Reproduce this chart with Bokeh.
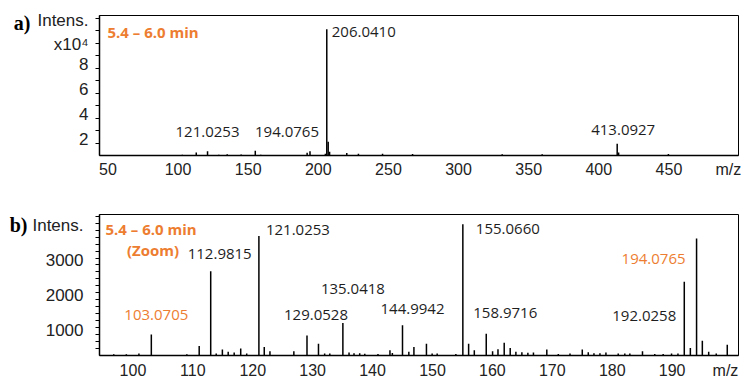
from bokeh.plotting import figure
from bokeh.layouts import column
from bokeh.models import ColumnDataSource, FixedTicker, Label, Range1d, LinearAxis
from bokeh.core.properties import value
from bokeh.embed import file_html
from bokeh.resources import INLINE

# ---------------- data ----------------
# panel b (zoomed region, m/z ~94-201): peak m/z and intensity
zoom_mz = [
    96.8, 98.9, 101.0, 103.0705, 109.0, 111.06, 112.9815, 113.9, 114.93, 115.9,
    116.9, 117.99, 118.99, 121.0253, 121.92, 122.87, 126.86, 129.0528, 130.97, 132.0,
    132.86, 135.0418, 136.07, 136.9, 137.85, 138.7, 140.9, 142.9, 143.3, 144.9942,
    146.05, 146.9, 148.99, 149.94, 150.78, 153.9, 155.0660, 156.03, 156.98, 158.9716,
    160.03, 160.93, 161.97, 162.97, 163.92, 164.92, 165.92, 166.85, 169.08, 171.0,
    172.95, 175.0, 176.0, 176.95, 177.95, 178.95, 181.0, 182.1, 182.94, 185.05,
    187.1, 188.5, 189.9, 190.97, 192.0258, 193.04, 194.0765, 195.04, 196.1, 197.36,
    199.2,
]
zoom_int = [
    38, 38, 57, 603, 38, 275, 2417, 57, 170, 105,
    85, 198, 57, 3436, 246, 122, 122, 575, 340, 57,
    57, 935, 85, 66, 66, 50, 40, 150, 75, 870,
    105, 246, 340, 57, 57, 40, 3768, 340, 150, 623,
    120, 180, 368, 218, 105, 90, 80, 85, 170, 45,
    57, 170, 90, 66, 66, 85, 57, 57, 57, 120,
    45, 45, 57, 57, 2116, 218, 3363, 425, 105, 57,
    310,
]
# panel a (full range): additional peaks above m/z 200
full_extra_mz = [205.04, 206.0410, 207.044, 208.04, 220.3, 228.6, 245.8, 267.2,
                 331.1, 359.6, 413.0927, 414.096, 449.6]
full_extra_int = [1500, 101000, 11000, 3000, 2000, 1500, 1500, 1200,
                  1000, 1000, 9500, 2500, 1200]

top_labels = ["206.0410", "121.0253", "194.0765", "413.0927"]
bottom_labels = ["103.0705", "112.9815", "121.0253", "129.0528", "135.0418",
                 "144.9942", "155.0660", "158.9716", "192.0258", "194.0765"]

top_xticks = [50, 100, 150, 200, 250, 300, 350, 400, 450]
top_yticks = [20000, 40000, 60000, 80000, 100000]
top_ytick_text = ["2", "4", "6", "8", "x10\u2074"]
bottom_xticks = [100, 110, 120, 130, 140, 150, 160, 170, 180, 190]
bottom_yticks = [1000, 2000, 3000]
time_text = "5.4 \u2013 6.0 min"

# ---------------- styles / layout ----------------
ORANGE = "#ED7D31"
DARK = "#1e1e1e"
AXFONT = "Liberation Sans"
LBFONT = "Open Sans"

W = 742
H1 = 186
H2 = 381 - H1

top_spec = dict(left=97, top=15, w=641, h=140, x0=44.0, x1=44.0 + 641 / 1.407, y0=0, y1=112000, gtop=0)
bot_spec = dict(left=99, top=214, w=641, h=143, x0=94.42, x1=94.42 + 641 / 6.01, y0=0, y1=4050, gtop=H1)

# label offsets (px) relative to peak top: (dx, dy)
top_offsets = {"206.0410": (37, 3), "121.0253": (0, -19), "194.0765": (-23, -19), "413.0927": (6, -14)}
bot_offsets = {"103.0705": (5, -20), "112.9815": (9, -17), "121.0253": (39, -6), "129.0528": (9, -20),
               "135.0418": (10, -34), "144.9942": (10, -16), "155.0660": (45, 5), "158.9716": (19, -21),
               "192.0258": (-40, 34), "194.0765": (-43, 21)}
bot_orange = {"103.0705", "194.0765"}


def to_data(spec, px, py):
    x = spec["x0"] + (px - spec["left"]) / spec["w"] * (spec["x1"] - spec["x0"])
    y = spec["y1"] - (py - spec["top"]) / spec["h"] * (spec["y1"] - spec["y0"])
    return x, y


def units_per_px(spec):
    return (spec["y1"] - spec["y0"]) / spec["h"]


def make_fig(spec, height):
    p = figure(width=W, height=height, output_backend="svg", toolbar_location=None,
               x_range=Range1d(spec["x0"], spec["x1"]), y_range=Range1d(spec["y0"], spec["y1"]),
               min_border=0)
    p.min_border_left = spec["left"]
    p.min_border_right = W - spec["left"] - spec["w"]
    p.min_border_top = spec["top"] - spec["gtop"]
    p.min_border_bottom = height - (spec["top"] - spec["gtop"]) - spec["h"]
    p.xgrid.visible = False
    p.ygrid.visible = False
    p.outline_line_color = "black"
    p.outline_line_width = 1
    p.background_fill_color = "white"
    p.border_fill_color = "white"
    for ax in (p.xaxis[0], p.yaxis[0]):
        ax.axis_line_color = "black"
        ax.axis_line_width = 1.5
        ax.major_tick_line_color = None
        ax.major_tick_out = 0
        ax.major_tick_in = 0
        ax.minor_tick_line_color = "black"
        ax.minor_tick_out = 4
        ax.minor_tick_in = 0
        ax.major_label_text_font = AXFONT
        ax.major_label_text_color = "#222222"
    p.xaxis.major_label_text_font_size = "16px"
    p.yaxis.major_label_text_font_size = "17px"
    return p


def setup_axes(p, spec, xticks, yticks, ytext, minor_y, mz_center_px, intens_px, xstand, ystand, shift_px):
    # x axis: labelled ticks plus the "m/z" unit
    mz_pos = round(to_data(spec, mz_center_px, 0)[0], 1)
    p.xaxis.ticker = FixedTicker(ticks=list(xticks) + [mz_pos], minor_ticks=[])
    p.xaxis.major_label_overrides = {mz_pos: "m/z"}
    p.xaxis.major_label_standoff = xstand
    # y axis: labels drawn a little below their tick marks, as in the original
    upp = units_per_px(spec)
    pos = []
    over = {}
    for t, s in zip(yticks, ytext):
        sh = shift_px if not s.startswith("x10") else 14
        v = round(t - sh * upp, 1)
        pos.append(v)
        over[v] = s
    iv = round(to_data(spec, 0, intens_px)[1], 1)
    pos.append(iv)
    over[iv] = "Intens."
    p.yaxis.ticker = FixedTicker(ticks=pos, minor_ticks=minor_y)
    p.yaxis.major_label_overrides = over
    p.yaxis.major_label_standoff = ystand


def add_panel_letter(p, spec, py, text, standoff):
    # panel letter drawn as the only label of an extra, line-less axis on the far left
    v = round(to_data(spec, 0, py)[1], 1)
    ax = LinearAxis(ticker=FixedTicker(ticks=[v], minor_ticks=[]),
                    major_label_overrides={v: text},
                    axis_line_color=None, major_tick_line_color=None,
                    minor_tick_line_color=None, major_tick_out=0, major_tick_in=0,
                    major_label_standoff=standoff,
                    major_label_text_font="Liberation Serif",
                    major_label_text_font_style="bold",
                    major_label_text_font_size="20px",
                    major_label_text_color="black")
    p.add_layout(ax, "left")


def add_peaks(p, mz, inten):
    p.segment(x0=mz, y0=[0] * len(mz), x1=mz, y1=inten, line_color="black", line_width=1.5)


def add_peak_labels(p, labels, mz, inten, offsets, orange):
    xs, ys, dxs, dys, cols = [], [], [], [], []
    for lab in labels:
        m = float(lab)
        i = min(range(len(mz)), key=lambda k: abs(mz[k] - m))
        xs.append(mz[i])
        ys.append(inten[i])
        dxs.append(offsets[lab][0])
        dys.append(offsets[lab][1])
        cols.append(ORANGE if lab in orange else DARK)
    src = ColumnDataSource(dict(x=xs, y=ys, text=labels, dx=dxs, dy=dys, c=cols))
    p.text(x="x", y="y", text="text", x_offset="dx", y_offset="dy", text_color="c", source=src,
           text_font=value(LBFONT), text_font_size=value("15px"),
           text_align=value("center"), text_baseline=value("middle"))


def add_label(p, spec, px, py, text, color, font, size, style):
    x, y = to_data(spec, px, py)
    p.add_layout(Label(x=x, y=y, text=text, text_color=color, text_font=font,
                       text_font_size=size, text_font_style=style,
                       text_align="left", text_baseline="middle"))


# ---------------- panel a ----------------
full_mz = zoom_mz + full_extra_mz
full_int = zoom_int + full_extra_int
pa = make_fig(top_spec, H1)
setup_axes(pa, top_spec, top_xticks, top_yticks, top_ytick_text,
           [10000 * k for k in range(1, 12)], 727.7, 20, 5, 7, 8.5)
add_panel_letter(pa, top_spec, 22, "a)", 4)
add_peaks(pa, full_mz, full_int)
add_peak_labels(pa, top_labels, full_mz, full_int, top_offsets, set())
add_label(pa, top_spec, 105, 31, time_text, ORANGE, LBFONT, "15px", "bold")

# ---------------- panel b ----------------
pb = make_fig(bot_spec, H2)
setup_axes(pb, bot_spec, bottom_xticks, bottom_yticks, [str(t) for t in bottom_yticks],
           [200 * k for k in range(1, 21)], 726.7, 225, 6, 12, 10)
add_panel_letter(pb, bot_spec, 225, "b)", 2)
add_peaks(pb, zoom_mz, zoom_int)
add_peak_labels(pb, bottom_labels, zoom_mz, zoom_int, bot_offsets, bot_orange)
add_label(pb, bot_spec, 105, 228.5, time_text, ORANGE, LBFONT, "15px", "bold")
add_label(pb, bot_spec, 126.5, 250, "(Zoom)", ORANGE, LBFONT, "15px", "bold")

layout = column(pa, pb, spacing=0)
open("out.html", "w").write(file_html(layout, INLINE))
